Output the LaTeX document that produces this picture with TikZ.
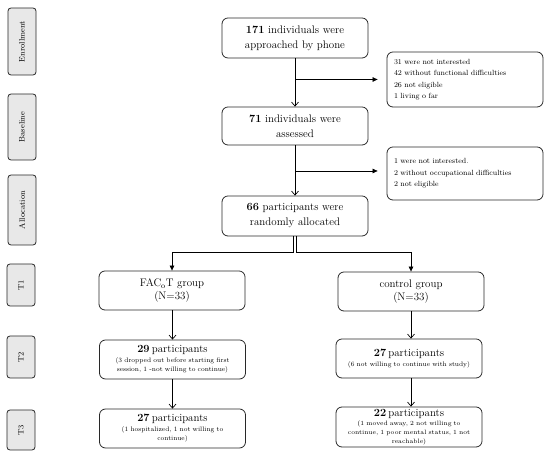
\documentclass[tikz,border=0pt]{standalone}
\usepackage{xcolor}
\usepackage{tikz}
\usetikzlibrary{arrows.meta,positioning}
\definecolor{grisPhase}{RGB}{232,232,232}
\definecolor{traitNoir}{RGB}{40,40,40}

\begin{document}
\begin{tikzpicture}[x=1bp,y=1bp,
  phase/.style={rectangle,rounded corners=3pt,draw=traitNoir,line width=0.8pt,fill=grisPhase,
                rotate=90,minimum height=28bp,inner sep=1pt,font=\fontsize{8}{9}\selectfont},
  boite/.style={rectangle,rounded corners=6pt,draw=traitNoir,line width=0.8pt,minimum width=146bp,
                text width=140bp,align=center,inner sep=2pt},
  cote/.style={rectangle,rounded corners=6pt,draw=traitNoir,line width=0.8pt,minimum width=156bp,
               text width=142bp,align=left,font=\fontsize{7.5}{11.5}\selectfont},
  grand/.style={font=\fontsize{11}{15}\selectfont},
  petit/.style={font=\fontsize{6.6}{9.5}\selectfont},
  fleche/.style={line width=0.7pt,-{Straight Barb[length=4pt,width=7pt]}},
  flechepleine/.style={line width=0.7pt,-{Triangle[length=5pt,width=4.5pt]}}]

  \useasboundingbox (0,0) rectangle (550,454);

  % phases
  \node[phase,minimum width=67bp] (enroll) at (22,412.5) {Enrollment};
  \node[phase,minimum width=66bp] (base)   at (22,327)   {Baseline};
  \node[phase,minimum width=70bp] (alloc)  at (22,244)   {Allocation};
  \node[phase,minimum width=42bp] (tun)    at (21,169)   {T1};
  \node[phase,minimum width=42bp] (tdeux)  at (21,97)    {T2};
  \node[phase,minimum width=40bp] (ttrois) at (21,24)    {T3};

  % main column
  \node[boite,grand,minimum height=40bp] (approach) at (295,416)
    {\textbf{171} individuals were\\approached by phone};
  \node[boite,grand,minimum height=38bp] (assess) at (295,328)
    {\textbf{71} individuals were\\assessed};
  \node[boite,grand,minimum height=40bp] (random) at (295,238)
    {\textbf{66} participants were\\randomly allocated};

  \node[cote,minimum height=55bp] (exclA) at (465,374.5)
    {31 were not interested\\42 without functional difficulties\\26 not eligible\\1 living o far};
  \node[cote,minimum height=53bp] (exclB) at (465,280.5)
    {1 were not interested.\\2 without occupational difficulties\\2 not eligible};

  % groups
  \node[boite,minimum height=39bp,font=\fontsize{11}{13}\selectfont] (facot) at (172,163.5)
    {FAC\textsubscript{o}T group\\(N=33)};
  \node[boite,minimum height=39bp,font=\fontsize{11}{13}\selectfont] (ctrl) at (411,162.5)
    {control group\\(N=33)};

  \node[boite,petit,minimum height=39bp] (facdeux) at (172.5,94.5)
    {{\fontsize{11}{13}\selectfont\textbf{29} participants\par}
     (3 dropped out before starting first\\session, 1 -not willing to continue)};
  \node[boite,petit,minimum height=39bp] (ctrldeux) at (409,95.5)
    {{\fontsize{11}{13}\selectfont\textbf{27} participants\par}
     (6 not willing to continue with study)};

  \node[boite,petit,minimum height=39bp] (factrois) at (172.5,25.5)
    {{\fontsize{11}{13}\selectfont\textbf{27} participants\par}
     (1 hospitalized, 1 not willing to\\continue)};
  \node[boite,minimum height=40bp,inner sep=1pt,font=\fontsize{6.3}{9}\selectfont] (ctrltrois) at (409,27)
    {{\fontsize{11}{12}\selectfont\textbf{22} participants\par}
     (1 moved away, 2 not willing to\\continue, 1 poor mental status, 1 not\\reachable)};

  % connectors
  \draw[fleche] (approach) -- (assess);
  \draw[fleche] (assess) -- (random);
  \draw[flechepleine,shorten >=9bp] (approach.south |- exclA.west) -- (exclA.west);
  \draw[flechepleine,shorten >=9bp] ([yshift=2.5bp]assess.south |- exclB.west) -- ([yshift=2.5bp]exclB.west);

  \draw[flechepleine] ([xshift=-1.5bp]random.south) -- ++(0,-16) -| (facot.north);
  \draw[flechepleine] ([xshift=1.5bp]random.south) -- ++(0,-16) -| (ctrl.north);

  \draw[fleche] (facot.south -| facdeux.north) -- (facdeux.north);
  \draw[fleche] (ctrl.south) -- (ctrl.south |- ctrldeux.north);
  \draw[fleche] (facdeux) -- (factrois);
  \draw[fleche] (ctrl.south |- ctrldeux.south) -- (ctrl.south |- ctrltrois.north);
\end{tikzpicture}
\end{document}
